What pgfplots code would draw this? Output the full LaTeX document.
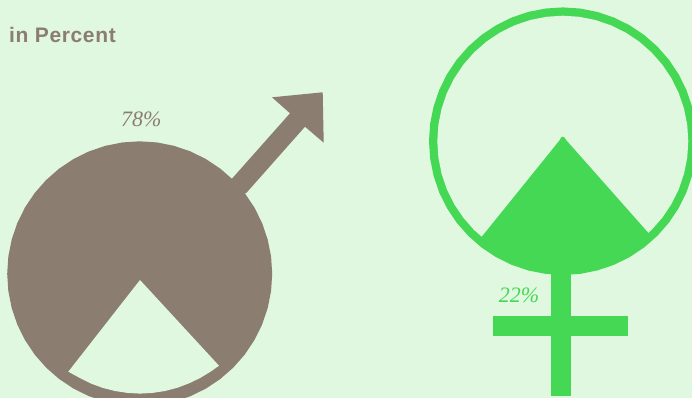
\documentclass[border=0pt]{standalone}
\usepackage{fontspec}
\usepackage{pgfplots}
\usepackage{pgfplotstable}
\pgfplotsset{compat=1.18}
\setmainfont{Liberation Sans}
\newfontfamily\figurefont{Liberation Serif}
\definecolor{pagebg}{HTML}{E0F7E0}
\definecolor{male}{HTML}{8B7D6F}
\definecolor{female}{HTML}{45D854}

% Unit circle in 7.5 degree steps, scaled to each symbol's ring
\pgfplotstableread{
c s
1.00000 0.00000
0.99144 0.13053
0.96593 0.25882
0.92388 0.38268
0.86603 0.50000
0.79335 0.60876
0.70711 0.70711
0.60876 0.79335
0.50000 0.86603
0.38268 0.92388
0.25882 0.96593
0.13053 0.99144
0.00000 1.00000
-0.13053 0.99144
-0.25882 0.96593
-0.38268 0.92388
-0.50000 0.86603
-0.60876 0.79335
-0.70711 0.70711
-0.79335 0.60876
-0.86603 0.50000
-0.92388 0.38268
-0.96593 0.25882
-0.99144 0.13053
-1.00000 0.00000
-0.99144 -0.13053
-0.96593 -0.25882
-0.92388 -0.38268
-0.86603 -0.50000
-0.79335 -0.60876
-0.70711 -0.70711
-0.60876 -0.79335
-0.50000 -0.86603
-0.38268 -0.92388
-0.25882 -0.96593
-0.13053 -0.99144
0.00000 -1.00000
0.13053 -0.99144
0.25882 -0.96593
0.38268 -0.92388
0.50000 -0.86603
0.60876 -0.79335
0.70711 -0.70711
0.79335 -0.60876
0.86603 -0.50000
0.92388 -0.38268
0.96593 -0.25882
0.99144 -0.13053
1.00000 0.00000
}\unitcircle

\begin{document}
\begin{tikzpicture}
\useasboundingbox (0,0) rectangle (692bp,398bp);
\begin{axis}[
  at={(0,0)}, anchor=south west,
  width=692bp, height=398bp, scale only axis,
  xmin=0, xmax=692, ymin=0, ymax=398, y dir=reverse,
  hide axis, clip=true,
]
% page background
\addplot[fill=pagebg, draw=none] coordinates {(0,0) (692,0) (692,398) (0,398)} -- cycle;

% male symbol: disc, arrow, and the open 22% wedge
\addplot[fill=male, draw=none] table[x expr=\thisrow{c}*132.5+139.7, y expr=\thisrow{s}*132.5+273.8] {\unitcircle} -- cycle;
\addplot[fill=male, draw=none] coordinates {
  (232.3,178.3) (290,113.3) (272,97.3) (322.7,92.3) (323.7,142.7)
  (305,126.7) (246,193.3) (225,190)} -- cycle;
\addplot[fill=pagebg, draw=none] coordinates {
  (140,280) (219,365.7) (210.7,371.6) (200.15,378) (188.9,383.4)
  (177.2,387.8) (165,391) (152.6,392.9) (140,393.6) (127.4,392.9)
  (115,391) (102.8,387.9) (91.1,383.6) (79.85,378) (68.3,371.7)} -- cycle;

% female symbol: ring, filled 22% wedge, stem and crossbar
\addplot[fill=female, draw=none] table[x expr=\thisrow{c}*133.8+562.8, y expr=\thisrow{s}*133.8+141.2] {\unitcircle} -- cycle;
\addplot[fill=pagebg, draw=none] table[x expr=\thisrow{c}*125.5+562.8, y expr=\thisrow{s}*125.5+141.2] {\unitcircle} -- cycle;
\addplot[fill=female, draw=none] coordinates {
  (481.3,237.3) (559.6,140.3) (561,137.6) (562.7,136.7) (564.5,137.6) (566.5,140.5)
  (648.7,233.3) (646.4,240.8) (627.8,253.8) (607.3,263.4) (585.4,269.2)
  (562.8,271.2) (540.2,269.2) (518.3,263.4) (497.8,253.8) (479.2,240.8)} -- cycle;
\addplot[fill=female, draw=none] coordinates {(551,270) (570.7,270) (570.7,396) (551,396)} -- cycle;
\addplot[fill=female, draw=none] coordinates {(493.3,316) (628,316) (628,336) (493.3,336)} -- cycle;

% labels
\node[anchor=base west, inner sep=0pt, text=male] at (axis cs:9,42)
  {\fontsize{21bp}{24bp}\selectfont\bfseries\addfontfeature{LetterSpace=3}in Percent};
\node[anchor=base, inner sep=0pt, text=male] at (axis cs:141.3,126)
  {\fontsize{22bp}{24bp}\figurefont\itshape 78\%};
\node[anchor=base, inner sep=0pt, text=female] at (axis cs:519,302.7)
  {\fontsize{22bp}{24bp}\figurefont\itshape 22\%};
\end{axis}
\end{tikzpicture}
\end{document}
